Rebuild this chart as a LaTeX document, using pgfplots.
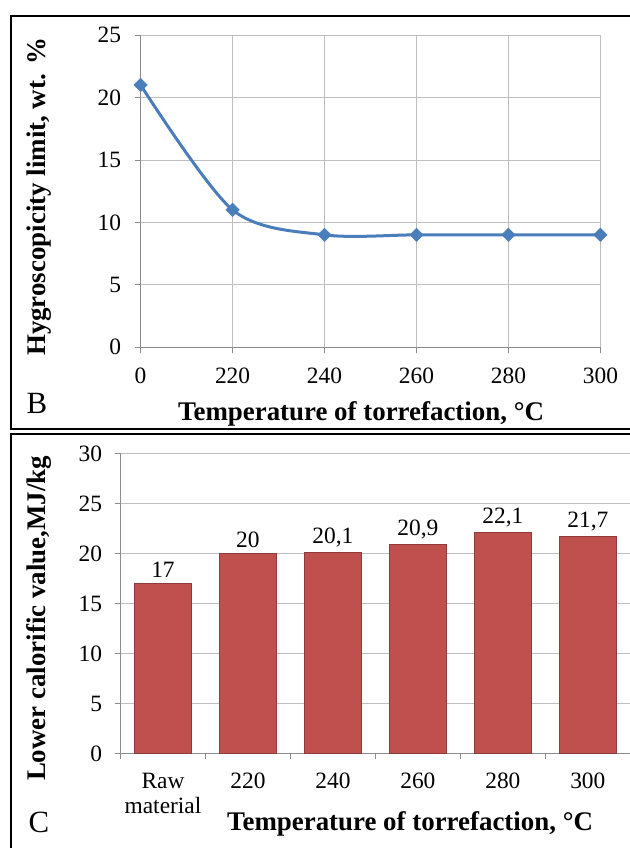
\documentclass[border=0pt]{standalone}
\usepackage{fontspec}
\setmainfont{Liberation Serif}
\usepackage{pgfplots}
\pgfplotsset{compat=1.18}
\definecolor{gridc}{HTML}{BEBEBE}
\definecolor{axc}{HTML}{8C8C8C}
\definecolor{lineblue}{HTML}{4A7EBB}
\definecolor{barred}{HTML}{C0504D}
\definecolor{bardark}{HTML}{8E3B39}
\newcommand{\tickfont}{\fontsize{23.5}{26}\selectfont}
\newcommand{\labfont}{\fontsize{27}{30}\selectfont\bfseries}
\begin{document}
\begin{tikzpicture}[x=1bp,y=1bp]
\useasboundingbox (0,0) rectangle (630,848);
\fill[white] (0,0) rectangle (630,848);
\draw[line width=2bp] (650,832) -- (11,832) -- (11,419) -- (650,419);
\draw[line width=2bp] (650,414) -- (11,414) -- (11,-10);

\begin{axis}[
  at={(140.6bp,500.7bp)}, anchor=south west, scale only axis,
  width=459.8bp, height=312.3bp,
  xmin=0, xmax=5, ymin=0, ymax=25,
  xtick={0,...,5}, xticklabels={0,220,240,260,280,300},
  ytick={0,5,...,25},
  grid=major, grid style={gridc, line width=0.8bp},
  axis x line=bottom, axis y line=left,
  axis line style={-, axc, line width=0.8bp},
  tick style={axc, line width=0.8bp},
  tick align=outside, major tick length=6bp,
  ticklabel style={font=\tickfont},
  xticklabel style={yshift=-11bp},
  yticklabel style={xshift=-10bp},
  /pgf/number format/assume math mode=true,
  clip=false,
]
\addplot[lineblue, line width=3bp, smooth, tension=0.5, mark=square*, mark size=4.8bp,
  mark options={rotate=45, fill=lineblue, draw=lineblue, line width=0.4bp}]
  coordinates {(0,21) (1,11) (2,9) (3,9) (4,9) (5,9)};
\end{axis}
\node[rotate=90, font=\labfont, inner sep=0] at (39,651) {Hygroscopicity limit, wt. \%};
\node[font=\labfont, anchor=base, inner sep=0] at (361,427) {Temperature of torrefaction, °C};
\node[font=\fontsize{31}{34}\selectfont, inner sep=0] at (37,445) {B};

\begin{axis}[
  at={(120.5bp,94.5bp)}, anchor=south west, scale only axis,
  width=509.8bp, height=300bp,
  xmin=-0.5, xmax=5.5, ymin=0, ymax=30,
  ytick={0,5,...,30},
  xtick={0,...,5},
  xticklabels={{Raw\\material},220,240,260,280,300},
  major x tick style={draw=none},
  minor xtick={-0.5,0.5,...,5.5},
  minor tick length=6bp,
  ymajorgrids, grid style={gridc, line width=0.8bp},
  axis x line=bottom, axis y line=left,
  axis line style={-, axc, line width=0.8bp},
  tick style={axc, line width=0.8bp},
  tick align=outside, major tick length=6bp,
  ticklabel style={font=\tickfont},
  xticklabel style={align=center, font=\fontsize{23.5}{25}\selectfont, yshift=-10bp},
  yticklabel style={xshift=-9bp},
  /pgf/number format/assume math mode=true,
  /pgf/number format/use comma,
  clip=false,
]
\addplot[ybar, bar width=57.5bp, fill=barred, draw=bardark, line width=0.8bp,
  nodes near coords, nodes near coords style={font=\tickfont, text=black, yshift=2bp}]
  coordinates {(0,17) (1,20) (2,20.1) (3,20.9) (4,22.1) (5,21.7)};
\end{axis}
\node[rotate=90, font=\labfont, inner sep=0] at (39,229.5) {Lower calorific value,MJ/kg};
\node[font=\labfont, anchor=base, inner sep=0] at (410,17) {Temperature of torrefaction, °C};
\node[font=\fontsize{31}{34}\selectfont, inner sep=0] at (39,25.5) {C};
\end{tikzpicture}
\end{document}
